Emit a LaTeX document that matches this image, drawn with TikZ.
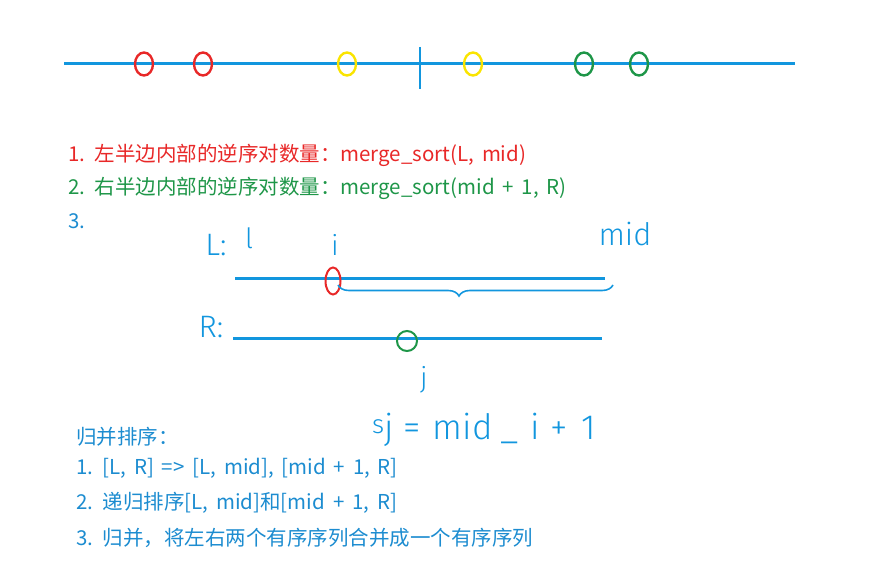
\documentclass[tikz,border=0pt]{standalone}
\usepackage{fontspec}
\setmainfont{Noto Sans CJK SC}[WordSpace=1.7]
\newfontfamily\handfont{Fira Sans Light}
\usetikzlibrary{positioning,shapes.geometric,decorations.pathreplacing}
\definecolor{lineblue}{RGB}{18,150,222}
\definecolor{txtred}{RGB}{232,40,40}
\definecolor{txtgreen}{RGB}{30,150,72}
\definecolor{txtblue}{RGB}{28,140,208}
\definecolor{ringyellow}{RGB}{250,228,0}
\tikzset{
  axis/.style={draw=lineblue, line width=3pt},
  ring/.style={ellipse, draw, line width=2.4pt, minimum width=18pt, minimum height=23pt, inner sep=0pt},
  note/.style={anchor=west, inner sep=0pt, font=\fontsize{20.5}{24}\selectfont},
  hand/.style={inner sep=0pt, text=lineblue, font=\handfont\fontsize{28}{28}\selectfont},
}

\begin{document}
\begin{tikzpicture}[x=1pt, y=-1pt]
    \useasboundingbox (0,0) rectangle (872,564);
    % number line with the split at mid
    \coordinate (a0) at (64,64); \coordinate (a1) at (795,64);
    \coordinate (m0) at (420,47); \coordinate (m1) at (420,89);
    \draw[axis] (a0)--(a1);
    \draw[axis, line width=2.5pt] (m0)--(m1);
    \node[ring, draw=txtred] (r1) at (144,64) {};
    \node[ring, draw=txtred] (r2) at (203,64) {};
    \node[ring, draw=ringyellow] (y1) at (347,64) {};
    \node[ring, draw=ringyellow] (y2) at (473,64) {};
    \node[ring, draw=txtgreen] (g1) at (584,64) {};
    \node[ring, draw=txtgreen] (g2) at (639,64) {};

    \node[note, text=txtred] (t1) at (68,155) {1. 左半边内部的逆序对数量：merge\_sort(L, mid)};
    \node[note, text=txtgreen] (t2) at (68,188) {2. 右半边内部的逆序对数量：merge\_sort(mid + 1, R)};
    \node[note, text=txtblue] (t3) at (68,221) {3.};

    % two halves
    \node[hand, font=\handfont\fontsize{31}{31}\selectfont] (lL) at (216,245) {L:};
    \node[hand] (ll) at (249,238) {l};
    \node[hand] (li) at (335,245) {i};
    \node[hand, font=\handfont\fontsize{31}{31}\selectfont] (lmid) at (625,234) {mid};
    \coordinate (L0) at (235,278); \coordinate (L1) at (605,278);
    \draw[axis] (L0)--(L1);
    \node[ring, draw=txtred, minimum width=15pt, minimum height=27pt, line width=2pt] (ri) at (333,281) {};
    \coordinate (b0) at (338,285); \coordinate (b1) at (613,285);
    \draw[lineblue, line width=1.6pt, decorate,
          decoration={brace, mirror, amplitude=11pt, aspect=0.44}] (b0)--(b1);
    \node[hand, font=\handfont\fontsize{31}{31}\selectfont] (lR) at (211,327) {R:};
    \coordinate (R0) at (233,338); \coordinate (R1) at (602,338);
    \draw[axis] (R0)--(R1);
    \node[ring, draw=txtgreen, minimum width=20pt, minimum height=20pt, line width=2pt] (gj) at (407,341) {};
    \node[hand] (lj) at (424,380) {j};
    \node[hand, anchor=west, font=\handfont\fontsize{35}{35}\selectfont] (sj) at (372,430)
      {{\fontsize{26}{26}\selectfont\raisebox{6pt}{s}}j\hspace{10pt}=\hspace{12pt}mid\hspace{8pt}\_\hspace{12pt}i\hspace{10pt}+\hspace{14pt}1};

    \node[note, text=txtblue] (s0) at (76,437) {归并排序：};
    \node[note, text=txtblue] (s1) at (76,468) {1. [L, R] => [L, mid], [mid + 1, R]};
    \node[note, text=txtblue] (s2) at (76,503) {2. 递归排序[L, mid]和[mid + 1, R]};
    \node[note, text=txtblue] (s3) at (76,538) {3. 归并，将左右两个有序序列合并成一个有序序列};
\end{tikzpicture}
\end{document}
